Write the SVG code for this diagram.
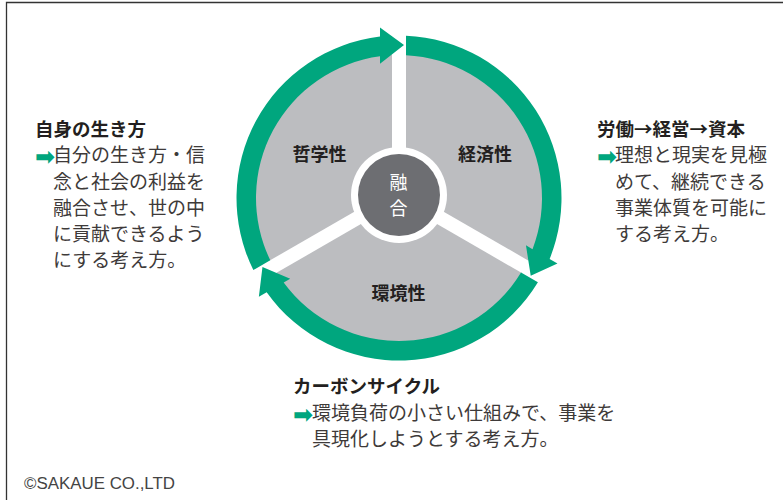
<svg xmlns="http://www.w3.org/2000/svg" width="783" height="500" viewBox="0 0 783 500">
<style>
.jp{font-family:"Noto Sans CJK JP","Noto Sans",sans-serif}
.ttl{font-weight:700;font-size:18.5px;fill:#231f20}
.body{font-size:19px;fill:#3e3a39}
.lbl{font-weight:700;font-size:18px;fill:#231f20;text-anchor:middle}
.arw{font-family:"DejaVu Sans",sans-serif;font-size:24px;font-weight:700;fill:#00a67e}
.ring{fill:#00a67e}
.spoke{stroke:#ffffff;stroke-width:14;stroke-linecap:butt}
</style>
<rect width="783" height="500" fill="#ffffff"/>
<path d="M6.5 500 V2.5 H783" fill="none" stroke="#333333" stroke-width="1.3"/>

<g id="wheel">
<circle cx="399" cy="198" r="144" fill="#bcbdc0"/>
<line class="spoke" x1="399" y1="194" x2="399" y2="20"/>
<line class="spoke" x1="399" y1="194" x2="554.9" y2="284"/>
<line class="spoke" x1="399" y1="194" x2="243.1" y2="284"/>
</g>

<g id="connectors">
<path class="ring" d="M406 35.65 A162.5 162.5 0 0 1 549.61 259.02 L557.47 263.56 L530.72 275.83 L525.96 245.36 L532.53 249.16 A143 143 0 0 0 406 55.17 Z"/>
<path class="ring" d="M537.92 282.29 A162.5 162.5 0 0 1 266.68 292.33 L258.86 296.85 L262.47 267.06 L290.2 278.76 L283.67 282.53 A143 143 0 0 0 521.04 272.54 Z"/>
<path class="ring" d="M253.34 270.02 A162.5 162.5 0 0 1 380 36.61 L380 27.56 L404 45.08 L380 63.84 L380 56.27 A143 143 0 0 0 270.26 260.25 Z"/>
</g>

<g id="philosophy">
<text class="jp lbl" x="319.5" y="161">哲学性</text>
</g>
<g id="economy">
<text class="jp lbl" x="485" y="161">経済性</text>
</g>
<g id="environment">
<text class="jp lbl" x="398.5" y="299.5">環境性</text>
</g>

<g id="fusion">
<circle cx="399" cy="195" r="48" fill="#ffffff"/>
<circle cx="399" cy="195" r="41" fill="#6d6e72"/>
<text class="jp" x="398.5" y="189" font-size="18" fill="#ffffff" text-anchor="middle">融</text>
<text class="jp" x="398.5" y="214.5" font-size="18" fill="#ffffff" text-anchor="middle">合</text>
</g>

<g id="note-left">
<text class="jp ttl" x="35" y="135.5">自身の生き方</text>
<text class="arw" x="35" y="164.5">➡</text>
<text class="jp body" x="53" y="162">自分の生き方・信</text>
<text class="jp body" x="53" y="188.5">念と社会の利益を</text>
<text class="jp body" x="53" y="214.5">融合させ、世の中</text>
<text class="jp body" x="53" y="240.5">に貢献できるよう</text>
<text class="jp body" x="53" y="266.5">にする考え方。</text>
</g>

<g id="note-right">
<text class="jp ttl" x="597" y="135.5">労働→経営→資本</text>
<text class="arw" x="597" y="164.5">➡</text>
<text class="jp body" x="615" y="162">理想と現実を見極</text>
<text class="jp body" x="615" y="188.5">めて、継続できる</text>
<text class="jp body" x="615" y="214.5">事業体質を可能に</text>
<text class="jp body" x="615" y="240.5">する考え方。</text>
</g>

<g id="note-bottom">
<text class="jp ttl" x="293" y="393">カーボンサイクル</text>
<text class="arw" x="293" y="422.5">➡</text>
<text class="jp body" x="312" y="420" font-size="18.5">環境負荷の小さい仕組みで、事業を</text>
<text class="jp body" x="312" y="446" font-size="18.5">具現化しようとする考え方。</text>
</g>

<text x="24" y="489" font-family="Liberation Sans, Arial, sans-serif" font-size="16" fill="#444444" textLength="151" lengthAdjust="spacingAndGlyphs">©SAKAUE CO.,LTD</text>
</svg>
